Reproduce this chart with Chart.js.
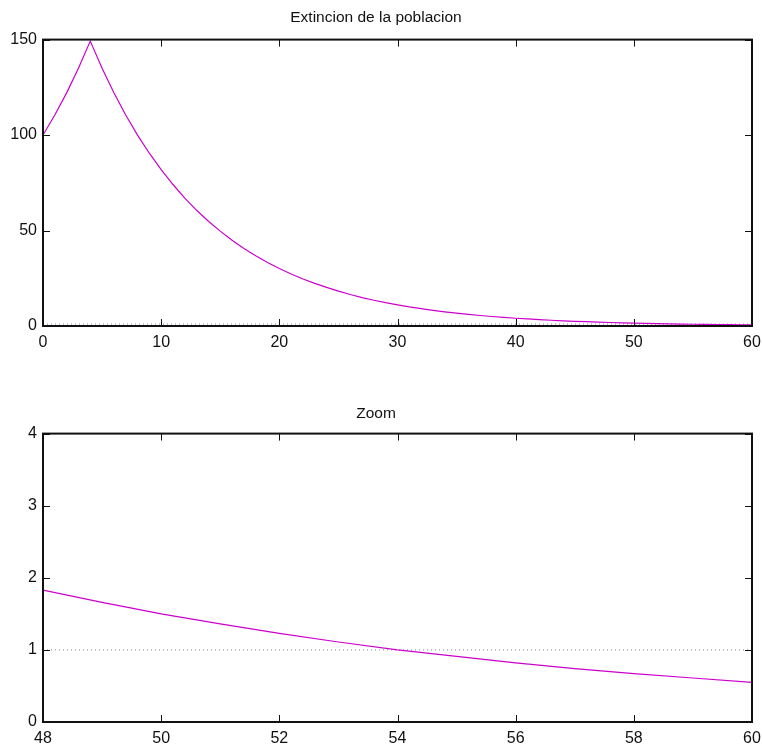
<!DOCTYPE html>
<html><head><meta charset="utf-8">
<script src="https://cdn.jsdelivr.net/npm/chart.js@4/dist/chart.umd.min.js"></script>
<style>
html,body{margin:0;padding:0;background:#fff;}
#w1{position:absolute;left:0;top:0;width:762px;height:375px;}
#w2{position:absolute;left:0;top:375px;width:762px;height:374px;}
</style></head><body>
<div id="w1"><canvas id="c1"></canvas></div>
<div id="w2"><canvas id="c2"></canvas></div>
<script>
// ---- data ----
const topTitle = "Extincion de la poblacion";
const zoomTitle = "Zoom";
const topX = [0,1,2,3,4,5,6,7,8,9,10,11,12,13,14,15,16,17,18,19,20,21,22,23,24,25,26,27,28,29,30,31,32,33,34,35,36,37,38,39,40,41,42,43,44,45,46,47,48,49,50,51,52,53,54,55,56,57,58,59,60];
const topY = [100,110.5,122.1,135,149.2,135.0,122.2,110.5,100.0,90.5,81.9,74.1,67.0,60.6,54.9,49.7,44.9,40.6,36.8,33.3,30.1,27.2,24.6,22.3,20.2,18.3,16.5,14.9,13.5,12.2,11.1,10.0,9.07,8.21,7.43,6.72,6.08,5.50,4.98,4.50,4.07,3.69,3.34,3.02,2.73,2.47,2.24,2.02,1.83,1.66,1.50,1.36,1.23,1.11,1.00,0.91,0.82,0.74,0.67,0.61,0.55];
const zoomX = [48,49,50,51,52,53,54,55,56,57,58,59,60];
const zoomY = [1.83,1.66,1.50,1.36,1.23,1.11,1.00,0.91,0.82,0.74,0.67,0.61,0.55];
const thresholdY = 1;
const topXTicks = [0,10,20,30,40,50,60];
const topYTicks = [0,50,100,150];
const zoomXTicks = [48,50,52,54,56,58,60];
const zoomYTicks = [0,1,2,3,4];

const FONT = "'Liberation Sans', Arial, sans-serif";
const frame = {
  id:'frame',
  afterDraw(chart){
    const ctx = chart.ctx, a = chart.chartArea;
    const xs = chart.scales.x, ys = chart.scales.y;
    ctx.save();
    ctx.strokeStyle = '#111';
    ctx.lineWidth = 1;
    const L = 7;
    ctx.beginPath();
    xs.ticks.forEach(t=>{
      const p = Math.round(xs.getPixelForValue(t.value))+0.5;
      ctx.moveTo(p,a.bottom); ctx.lineTo(p,a.bottom-L);
      ctx.moveTo(p,a.top); ctx.lineTo(p,a.top+L);
    });
    ys.ticks.forEach(t=>{
      const p = Math.round(ys.getPixelForValue(t.value))+0.5;
      ctx.moveTo(a.left,p); ctx.lineTo(a.left+L,p);
      ctx.moveTo(a.right,p); ctx.lineTo(a.right-L,p);
    });
    ctx.stroke();
    ctx.lineWidth = 2;
    ctx.strokeRect(a.left, a.top, a.right-a.left, a.bottom-a.top);
    ctx.restore();
  }
};

function makeChart(id, xs, ys, xmin, xmax, xticks, ymin, ymax, yticks, title, padBottom, titlePad, xAxisH){
  return new Chart(document.getElementById(id), {
    type:'line',
    data:{datasets:[
      {data: xs.map((x,i)=>({x:x,y:ys[i]})), borderColor:'#cc00cc', borderWidth:1.2, pointRadius:0, tension:0, fill:false},
      {data:[{x:xmin,y:thresholdY},{x:xmax,y:thresholdY}], borderColor:'rgba(110,110,140,0.85)', borderWidth:1, borderDash:[1,3], pointRadius:0, fill:false}
    ]},
    options:{
      responsive:true, maintainAspectRatio:false, animation:false,
      layout:{padding:{left:0,right:10,top:0,bottom:padBottom}},
      plugins:{legend:{display:false}, tooltip:{enabled:false},
        title:{display:true, text:title, color:'#111', font:{family:FONT,size:15.5,weight:'normal'}, padding:titlePad}},
      scales:{
        x:{type:'linear', min:xmin, max:xmax,
          afterBuildTicks(s){ s.ticks = xticks.map(v=>({value:v})); },
          grid:{display:false, drawTicks:false}, border:{display:false},
          ticks:{color:'#111', font:{family:FONT,size:16}, padding:7, maxRotation:0},
          afterFit(s){ s.height = xAxisH; s.paddingLeft = 0; s.paddingRight = 0; }},
        y:{type:'linear', min:ymin, max:ymax,
          afterBuildTicks(s){ s.ticks = yticks.map(v=>({value:v})); },
          grid:{display:false, drawTicks:false}, border:{display:false},
          ticks:{color:'#111', font:{family:FONT,size:16}, padding:6},
          afterFit(s){ s.width = 43; s.paddingTop = 0; s.paddingBottom = 0; }}
      }
    },
    plugins:[frame]
  });
}
makeChart('c1', topX, topY, 0, 60, topXTicks, 0, 150, topYTicks, topTitle, 17, {top:8,bottom:13}, 32);
makeChart('c2', zoomX, zoomY, 48, 60, zoomXTicks, 0, 4, zoomYTicks, zoomTitle, 0, {top:29,bottom:11}, 27);
</script></body></html>
